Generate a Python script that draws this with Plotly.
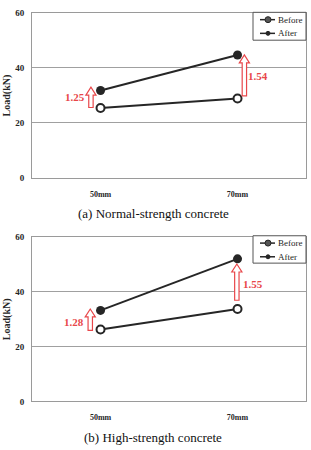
import plotly.graph_objects as go

# ---- data ----
categories = ["50mm", "70mm"]
series_names = ["Before", "After"]
before_normal = [25.4, 28.9]
after_normal = [31.8, 44.7]
ratio_normal = ["1.25", "1.54"]
before_high = [26.2, 33.7]
after_high = [33.2, 52.0]
ratio_high = ["1.28", "1.55"]
y_ticks = [0, 20, 40, 60]
captions = ["(a) Normal-strength concrete", "(b) High-strength concrete"]

W, H = 311, 450
SERIF = "Liberation Serif"
DARK = "#262626"
RED = "#e8474a"

fig = go.Figure()

panels = [
    dict(before=before_normal, after=after_normal, ratio=ratio_normal,
         xa="x", ya="y",
         arrow_dx=[-0.07, 0.05], arrow_lo=[25.6, 29.8], arrow_hi=[33.0, 44.7],
         lab_x=[-0.19, 1.15], lab_y=[29.4, 37.0],
         leg_box=(253, 7.5, 306, 36), leg_rows=[15, 29]),
    dict(before=before_high, after=after_high, ratio=ratio_high,
         xa="x2", ya="y2",
         arrow_dx=[-0.075, -0.005], arrow_lo=[25.9, 36.9], arrow_hi=[33.7, 50.1],
         lab_x=[-0.197, 1.11], lab_y=[29.0, 43.0],
         leg_box=(253, 236, 306, 264), leg_rows=[243.5, 257.5]),
]

xpos = list(range(len(categories)))
shapes = []
annotations = []


def px(x):
    return x / W


def py(y):
    return 1 - y / H


for p in panels:
    fig.add_trace(go.Scatter(
        x=xpos, y=p["before"], name=series_names[0], mode="lines+markers",
        line=dict(color=DARK, width=2),
        marker=dict(symbol="circle", size=8, color="white", line=dict(color=DARK, width=2)),
        xaxis=p["xa"], yaxis=p["ya"], showlegend=False))
    fig.add_trace(go.Scatter(
        x=xpos, y=p["after"], name=series_names[1], mode="lines+markers",
        line=dict(color=DARK, width=2),
        marker=dict(symbol="circle", size=9, color=DARK),
        xaxis=p["xa"], yaxis=p["ya"], showlegend=False))
    for i in xpos:
        xc = i + p["arrow_dx"][i]
        y0 = p["arrow_lo"][i]
        y1 = p["arrow_hi"][i]
        yh = y1 - 2.9
        sw, hw = 0.016, 0.037
        path = (f"M {xc-sw},{y0} L {xc+sw},{y0} L {xc+sw},{yh} L {xc+hw},{yh} "
                f"L {xc},{y1} L {xc-hw},{yh} L {xc-sw},{yh} Z")
        shapes.append(dict(type="path", path=path, xref=p["xa"], yref=p["ya"],
                           line=dict(color=RED, width=1.2), fillcolor="white", layer="above"))
        annotations.append(dict(x=p["lab_x"][i], y=p["lab_y"][i], xref=p["xa"], yref=p["ya"],
                                xanchor="center", yanchor="middle",
                                text=p["ratio"][i], showarrow=False,
                                font=dict(family=SERIF, size=11, color=RED, weight="bold")))
    # compact legend box, drawn to match the reference
    x0, y0, x1, y1 = p["leg_box"]
    shapes.append(dict(type="rect", xref="paper", yref="paper",
                       x0=px(x0), x1=px(x1), y0=py(y1), y1=py(y0),
                       line=dict(color="#555555", width=1), fillcolor="white", layer="above"))
    for k, (name, ry) in enumerate(zip(series_names, p["leg_rows"])):
        shapes.append(dict(type="line", xref="paper", yref="paper",
                           x0=px(260), x1=px(275), y0=py(ry), y1=py(ry),
                           line=dict(color=DARK, width=1.5), layer="above"))
        d = 6 if k == 0 else 4
        shapes.append(dict(type="circle", xref="paper", yref="paper",
                           xsizemode="pixel", ysizemode="pixel",
                           xanchor=px(268), yanchor=py(ry),
                           x0=-d / 2, x1=d / 2, y0=-d / 2, y1=d / 2,
                           line=dict(color=DARK, width=1),
                           fillcolor="#555555" if k == 0 else DARK, layer="above"))
        annotations.append(dict(x=px(276), y=py(ry), xref="paper", yref="paper",
                                xanchor="left", yanchor="middle", text=name, showarrow=False,
                                font=dict(family=SERIF, size=9, color=DARK)))

XDOM = [0.103, 0.984]
axis_common_x = dict(range=[-0.5, 1.5], tickmode="array", tickvals=xpos, ticktext=categories,
                     showgrid=False, zeroline=False, showline=True, linecolor="#9a9a9a",
                     linewidth=1, mirror=True, ticks="", ticklabelstandoff=8,
                     tickfont=dict(family=SERIF, size=8, color=DARK, weight="bold"),
                     domain=XDOM)
axis_common_y = dict(range=[0, 60], tickmode="array", tickvals=y_ticks,
                     showgrid=True, gridcolor="#a0a0a0", gridwidth=1, zeroline=False,
                     showline=True, linecolor="#9a9a9a", linewidth=1, mirror=True, ticks="",
                     ticklabelstandoff=5,
                     tickfont=dict(family=SERIF, size=9, color=DARK, weight="bold"))

fig.update_layout(
    width=W, height=H, margin=dict(l=0, r=0, t=0, b=0),
    paper_bgcolor="white", plot_bgcolor="white",
    xaxis=dict(**axis_common_x, anchor="y"),
    yaxis=dict(**axis_common_y, domain=[0.607, 0.982], anchor="x"),
    xaxis2=dict(**axis_common_x, anchor="y2"),
    yaxis2=dict(**axis_common_y, domain=[0.099, 0.473], anchor="x2"),
    showlegend=False,
    shapes=shapes,
)

for ymid in [(0.607 + 0.982) / 2, (0.099 + 0.473) / 2]:
    annotations.append(dict(x=7 / W, y=ymid, xref="paper", yref="paper", text="Load(kN)",
                            xanchor="center", yanchor="middle",
                            textangle=-90, showarrow=False,
                            font=dict(family=SERIF, size=10, color=DARK, weight="bold")))
for cap, yc in zip(captions, [py(213), py(442)]):
    annotations.append(dict(x=153 / W, y=yc, xref="paper", yref="paper", text=cap,
                            xanchor="center", yanchor="middle",
                            showarrow=False, font=dict(family=SERIF, size=13, color="#111111")))
fig.update_layout(annotations=annotations)

fig.write_html("out.html")
